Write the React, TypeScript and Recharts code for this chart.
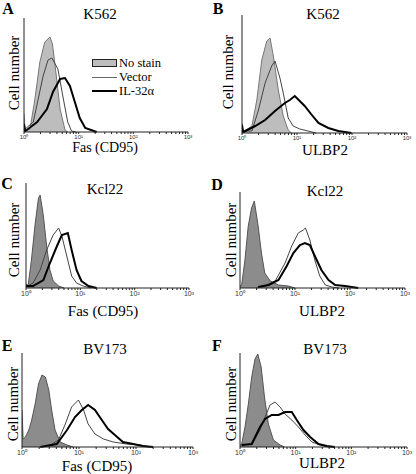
import React from 'react';
import { ComposedChart, Area, Line, XAxis, YAxis } from 'recharts';

// x = decade position (0 = 10^0 ... 3 = 10^3), y = cell count (axis units)
const majorTicks = [0, 1, 2, 3];
const majorLabels = ['10⁰', '10¹', '10²', '10³'];
const minorTicks = [
  0.301, 0.477, 0.602, 0.699, 0.778, 0.845, 0.903, 0.954,
  1.301, 1.477, 1.602, 1.699, 1.778, 1.845, 1.903, 1.954,
  2.301, 2.477, 2.602, 2.699, 2.778, 2.845, 2.903, 2.954,
];

// A: K562 / Fas
const aNoStain = [[0, 18], [0.02, 1], [0.11, 3], [0.2, 33], [0.29, 70], [0.38, 90], [0.475, 95], [0.52, 88], [0.57, 66], [0.66, 23], [0.75, 2], [0.8, 0]];
const aVector = [[0, 2], [0.17, 10], [0.35, 56], [0.44, 72], [0.51, 74], [0.62, 63], [0.72, 33], [0.8, 10], [0.87, 1], [0.95, 0]];
const aIL32 = [[0, 8], [0.02, 1], [0.05, 2], [0.24, 10], [0.42, 23], [0.53, 40], [0.66, 53], [0.75, 54], [0.84, 46], [0.93, 30], [1.02, 14], [1.12, 4], [1.33, 0]];

// B: K562 / ULBP2
const bNoStain = [[0, 10], [0.02, 1], [0.18, 7], [0.27, 33], [0.36, 73], [0.45, 92], [0.51, 95], [0.57, 77], [0.66, 43], [0.75, 17], [0.84, 3], [0.9, 0]];
const bVector = [[0, 2], [0.18, 2], [0.3, 23], [0.42, 50], [0.54, 67], [0.6, 72], [0.69, 55], [0.75, 40], [0.84, 15], [0.93, 7], [1.05, 4], [1.2, 2], [1.35, 0]];
const bIL32 = [[0, 8], [0.02, 1], [0.06, 2], [0.24, 7], [0.42, 13], [0.6, 22], [0.78, 30], [0.87, 33], [0.96, 37], [1.05, 32], [1.14, 27], [1.27, 18], [1.39, 10], [1.57, 5], [1.75, 2], [1.99, 0]];

// C: Kcl22 / Fas
const cNoStain = [[0, 3], [0.04, 3], [0.1, 28], [0.17, 65], [0.23, 90], [0.26, 93], [0.32, 72], [0.38, 42], [0.44, 18], [0.5, 7], [0.6, 2], [0.7, 0]];
const cVector = [[0, 1], [0.13, 5], [0.26, 18], [0.38, 38], [0.5, 53], [0.6, 60], [0.66, 52], [0.75, 32], [0.84, 12], [0.93, 5], [1.05, 2], [1.2, 0]];
const cIL32 = [[0, 3], [0.02, 2], [0.13, 2], [0.32, 8], [0.44, 25], [0.57, 42], [0.66, 53], [0.77, 55], [0.84, 38], [0.93, 18], [1.02, 7], [1.15, 2], [1.3, 0]];

// D: Kcl22 / ULBP2
const dNoStain = [[0, 2], [0.03, 3], [0.09, 28], [0.15, 62], [0.21, 80], [0.26, 87], [0.33, 62], [0.39, 35], [0.45, 15], [0.55, 7], [0.7, 3], [0.88, 2], [1.0, 0]];
const dVector = [[0.3, 0], [0.45, 2], [0.64, 7], [0.82, 25], [0.94, 42], [1.06, 55], [1.15, 58], [1.19, 60], [1.27, 48], [1.36, 28], [1.45, 12], [1.55, 3], [1.67, 1], [1.8, 0]];
const dIL32 = [[0.33, 1], [0.52, 3], [0.7, 8], [0.85, 22], [0.97, 35], [1.09, 43], [1.18, 45], [1.27, 43], [1.36, 32], [1.48, 18], [1.61, 8], [1.73, 3], [1.91, 2], [2.15, 0]];

// E: BV173 / Fas
const eNoStain = [[0, 37], [0.02, 8], [0.06, 10], [0.12, 17], [0.17, 27], [0.23, 43], [0.29, 63], [0.35, 72], [0.41, 70], [0.47, 57], [0.52, 37], [0.58, 17], [0.67, 5], [0.79, 2], [0.9, 0]];
const eVector = [[0.5, 2], [0.64, 7], [0.76, 23], [0.87, 40], [0.99, 47], [1.08, 37], [1.16, 23], [1.28, 13], [1.43, 8], [1.6, 5], [1.83, 3], [2.07, 2], [2.24, 0]];
const eIL32 = [[0.32, 0], [0.61, 3], [0.79, 17], [0.93, 30], [1.05, 37], [1.16, 42], [1.28, 37], [1.4, 27], [1.51, 18], [1.63, 12], [1.77, 5], [1.95, 3], [2.12, 1], [2.3, 0]];

// F: BV173 / ULBP2
const fNoStain = [[0, 2], [0.03, 3], [0.09, 20], [0.15, 43], [0.21, 70], [0.27, 88], [0.32, 93], [0.38, 80], [0.44, 50], [0.51, 23], [0.6, 7], [0.72, 2], [0.8, 0]];
const fVector = [[0.21, 2], [0.36, 17], [0.45, 30], [0.54, 42], [0.63, 45], [0.72, 40], [0.81, 33], [0.93, 27], [1.05, 20], [1.17, 12], [1.29, 5], [1.44, 2], [1.6, 0]];
const fIL32 = [[0.03, 2], [0.21, 3], [0.36, 20], [0.45, 28], [0.57, 32], [0.69, 32], [0.81, 35], [0.93, 35], [1.02, 27], [1.14, 17], [1.26, 10], [1.41, 3], [1.56, 1], [1.7, 0]];

const legendLabels = ['No stain', 'Vector', 'IL-32α'];

const toRows = (pts: number[][]) => pts.map(([x, y]) => ({ x, y }));

const serif = '"Liberation Serif", "DejaVu Serif", serif';

interface PanelProps {
  x0: number;
  x3: number;
  top: number;
  base: number;
  yMax: number;
  noStain: number[][];
  vector: number[][];
  il32: number[][];
  fill: string;
  edge: string;
  tickFont: number;
}

function Panel({ x0, x3, top, base, yMax, noStain, vector, il32, fill, edge, tickFont }: PanelProps) {
  const ml = 10, mr = 8, mt = 4, mb = 14;
  const yTicks = [0, 1, 2, 3, 4].map((i) => (i * yMax) / 4);
  const renderTick = (props: any) => {
    const idx = majorTicks.indexOf(props.payload.value);
    if (idx < 0) return <g />;
    return (
      <text x={props.x} y={props.y + tickFont - 2} textAnchor="middle" fontSize={tickFont} fill="#333" fontFamily="Arial, sans-serif">
        {majorLabels[idx]}
      </text>
    );
  };
  return (
    <div style={{ position: 'absolute', left: x0 - ml, top: top - mt }}>
      <ComposedChart width={x3 - x0 + ml + mr} height={base - top + mt + mb} margin={{ top: mt, right: mr, left: 0, bottom: 0 }}>
        <XAxis
          type="number"
          dataKey="x"
          domain={[0, 3]}
          ticks={[...majorTicks, ...minorTicks]}
          interval={0}
          allowDataOverflow
          height={mb}
          tickSize={2}
          tickMargin={1}
          tick={renderTick}
          stroke="#222"
        />
        <YAxis type="number" domain={[0, yMax]} ticks={yTicks} tick={false} tickSize={3} width={ml} stroke="#222" />
        <Area type="linear" data={toRows(noStain)} dataKey="y" fill={fill} fillOpacity={1} stroke={edge} strokeWidth={1} isAnimationActive={false} />
        <Line type="linear" data={toRows(vector)} dataKey="y" stroke="#444" strokeWidth={1} dot={false} isAnimationActive={false} />
        <Line type="linear" data={toRows(il32)} dataKey="y" stroke="#000" strokeWidth={2} dot={false} isAnimationActive={false} />
      </ComposedChart>
    </div>
  );
}

const Txt = ({ x, y, size, children, bold, rotate }: any) => (
  <div
    style={{
      position: 'absolute',
      left: x,
      top: y,
      transform: `translate(-50%, -50%)${rotate ? ' rotate(-90deg)' : ''}`,
      fontFamily: serif,
      fontSize: size,
      fontWeight: bold ? 'bold' : 'normal',
      whiteSpace: 'nowrap',
      lineHeight: 1,
      color: '#000',
    }}
  >
    {children}
  </div>
);

export default function App() {
  const light = '#bdbdbd';
  const dark = '#8c8c8c';
  return (
    <div style={{ position: 'absolute', left: 0, top: 0, width: 416, height: 474, background: '#fff', overflow: 'hidden' }}>
      <Panel x0={24} x3={188} top={18} base={132} yMax={114} noStain={aNoStain} vector={aVector} il32={aIL32} fill={light} edge="#777" tickFont={6} />
      <Panel x0={242} x3={407} top={15} base={133} yMax={118} noStain={bNoStain} vector={bVector} il32={bIL32} fill={light} edge="#777" tickFont={6} />
      <Panel x0={26} x3={189} top={183} base={288} yMax={105} noStain={cNoStain} vector={cVector} il32={cIL32} fill={dark} edge="#555" tickFont={7} />
      <Panel x0={240} x3={405} top={192} base={288} yMax={96} noStain={dNoStain} vector={dVector} il32={dIL32} fill={dark} edge="#555" tickFont={7} />
      <Panel x0={22} x3={193} top={353} base={447} yMax={94} noStain={eNoStain} vector={eVector} il32={eIL32} fill={dark} edge="#555" tickFont={7} />
      <Panel x0={240} x3={407} top={353} base={447} yMax={94} noStain={fNoStain} vector={fVector} il32={fIL32} fill={dark} edge="#555" tickFont={7} />

      <Txt x={8} y={9} size={16} bold>A</Txt>
      <Txt x={218} y={9} size={16} bold>B</Txt>
      <Txt x={7} y={184} size={16} bold>C</Txt>
      <Txt x={217} y={185} size={16} bold>D</Txt>
      <Txt x={7} y={346} size={16} bold>E</Txt>
      <Txt x={217} y={346} size={16} bold>F</Txt>

      <Txt x={100} y={14} size={15}>K562</Txt>
      <Txt x={323} y={14} size={15}>K562</Txt>
      <Txt x={105} y={189} size={15}>Kcl22</Txt>
      <Txt x={325} y={191} size={15}>Kcl22</Txt>
      <Txt x={105} y={349} size={15}>BV173</Txt>
      <Txt x={325} y={349} size={15}>BV173</Txt>

      <Txt x={14} y={73} size={15} rotate>Cell number</Txt>
      <Txt x={228} y={72} size={15} rotate>Cell number</Txt>
      <Txt x={14} y={240} size={15} rotate>Cell number</Txt>
      <Txt x={231} y={240} size={15} rotate>Cell number</Txt>
      <Txt x={13} y={404} size={15} rotate>Cell number</Txt>
      <Txt x={231} y={404} size={15} rotate>Cell number</Txt>

      <Txt x={105} y={148} size={14}>Fas (CD95)</Txt>
      <Txt x={325} y={150} size={15}>ULBP2</Txt>
      <Txt x={103} y={311} size={15}>Fas (CD95)</Txt>
      <Txt x={322} y={311} size={15}>ULBP2</Txt>
      <Txt x={97} y={466} size={15}>Fas (CD95)</Txt>
      <Txt x={322} y={463} size={15}>ULBP2</Txt>

      {/* legend */}
      <div style={{ position: 'absolute', left: 92, top: 56, fontFamily: serif, fontSize: 12, lineHeight: '14px' }}>
        {legendLabels.map((label, i) => (
          <div key={label} style={{ display: 'flex', alignItems: 'center', height: 14 }}>
            <div
              style={{
                width: i === 0 ? 23 : 25,
                height: i === 0 ? 6 : i === 2 ? 2 : 1,
                background: i === 0 ? light : i === 2 ? '#000' : '#666',
                border: i === 0 ? '1px solid #222' : 'none',
                marginRight: 2,
              }}
            />
            <span style={{ fontSize: 12.5, lineHeight: '14px' }}>{label}</span>
          </div>
        ))}
      </div>
    </div>
  );
}
